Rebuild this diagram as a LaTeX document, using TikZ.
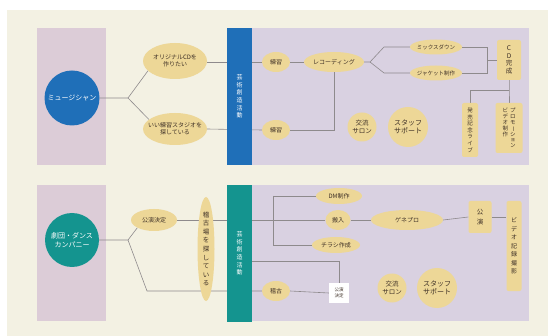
\documentclass[tikz,border=0pt]{standalone}
\usepackage{fontspec}
\usepackage{graphicx}
\setmainfont{Noto Sans CJK JP}
\usetikzlibrary{shapes.geometric}
\pgfdeclarelayer{bg}
\pgfdeclarelayer{ln}
\pgfsetlayers{bg,ln,main}
\definecolor{cream}{HTML}{F3F1E3}
\definecolor{pinkp}{HTML}{DCCCD7}
\definecolor{lavp}{HTML}{D9D1E1}
\definecolor{blueA}{HTML}{1F6FB8}
\definecolor{tealA}{HTML}{14948F}
\definecolor{ochre}{HTML}{EDD797}
\definecolor{txt}{HTML}{3E3026}
\definecolor{lineg}{HTML}{8E8A8C}
\newcommand\vbr{\rotatebox[origin=c]{-90}{ー}}
\begin{document}
\begin{tikzpicture}[x=1pt,y=-1pt,
  oval/.style={ellipse,fill=ochre,inner sep=-8pt,text=txt,align=center,font=\fontsize{6}{7}\selectfont},
  vbox/.style={rectangle,rounded corners=2pt,fill=ochre,inner sep=0pt,text=txt,align=center,font=\fontsize{6}{7}\selectfont},
  bub/.style={circle,fill=ochre,inner sep=0pt,text=txt,align=center,font=\fontsize{6.5}{7.5}\selectfont},
  bigc/.style={circle,inner sep=0pt,minimum size=55pt,text=white,align=center,font=\fontsize{7}{9}\selectfont},
  barbox/.style={rectangle,inner sep=0pt,minimum width=25pt,minimum height=137pt,text=white,align=center,font=\fontsize{6}{7.6}\selectfont},
  ln/.style={draw=lineg,line width=0.6pt}]
\useasboundingbox (0,0) rectangle (548,336);
\begin{pgfonlayer}{bg}
\fill[white] (0,0) rectangle (548,336);
\fill[cream] (7,10) rectangle (548,336);
\fill[pinkp] (37,28) rectangle (106,165);
\fill[lavp] (252,28) rectangle (529,165);
\fill[pinkp] (37,185) rectangle (106,321);
\fill[lavp] (252,185) rectangle (529,321);
\end{pgfonlayer}
% ---------- upper section ----------
\node[bigc,fill=blueA] (mus) at (72,98) {ミュージシャン};
\coordinate (b1) at (128,98);
\node[oval,minimum width=64pt,minimum height=36pt] (want) at (175,61) {オリジナルCDを\\作りたい};
\node[oval,minimum width=64pt,minimum height=32pt] (seek) at (175,129) {いい練習スタジオを\\探している};
\node[barbox,fill=blueA] (bar1) at (239.5,96.5) {芸\\術\\創\\造\\活\\動};
\node[oval,minimum width=28pt,minimum height=20pt] (ren1) at (276,62) {練習};
\node[oval,minimum width=60pt,minimum height=20pt] (rec) at (334,62) {レコーディング};
\coordinate (f1) at (370,62);
\coordinate (f2) at (384,47);
\coordinate (f3) at (384,73);
\node[oval,minimum width=52pt,minimum height=15pt,font=\fontsize{5.5}{6.5}\selectfont] (mix) at (436,47) {ミックスダウン};
\node[oval,minimum width=52pt,minimum height=15pt,font=\fontsize{5.5}{6.5}\selectfont] (jak) at (436,73) {ジャケット制作};
\coordinate (g1) at (487,47);
\coordinate (g2) at (487,73);
\coordinate (g3) at (487,60);
\node[vbox,minimum width=24pt,minimum height=40pt,font=\fontsize{6.5}{7.5}\selectfont] (cd) at (509,60) {C\\D\\完\\成};
\coordinate (h1) at (509,90);
\coordinate (h2) at (470,90);
\node[vbox,minimum width=16pt,minimum height=54pt,font=\fontsize{5.5}{6.6}\selectfont] (live) at (470,130) {発\\売\\記\\念\\ラ\\イ\\ブ};
\node[vbox,minimum width=27pt,minimum height=50pt,font=\fontsize{5.5}{6}\selectfont] (promo) at (509,128)
  {\renewcommand{\arraystretch}{0.85}\begin{tabular}[t]{@{}c@{\hspace{2pt}}c@{}}ビ&プ\\デ&ロ\\オ&モ\\制&\vbr\\作&シ\\&ョ\\&ン\end{tabular}};
\node[oval,minimum width=28pt,minimum height=20pt] (ren2) at (276,130) {練習};
\node[bub,minimum size=29pt] (sal1) at (362,127) {交流\\サロン};
\node[bub,minimum size=40pt,font=\fontsize{7}{8}\selectfont] (stf1) at (408,127) {スタッフ\\サポート};
% ---------- lower section ----------
\node[bigc,fill=tealA,minimum size=54pt] (gek) at (72,240) {劇団・ダンス\\カンパニー};
\coordinate (b2) at (128,240);
\coordinate (c2) at (147,291);
\node[oval,minimum width=46pt,minimum height=22pt] (kd) at (154,220) {公演決定};
\node[barbox,fill=tealA] (bar2) at (239.5,253.5) {芸\\術\\創\\造\\活\\動};
\node[oval,minimum width=17pt,minimum height=104pt,font=\fontsize{6.5}{8.6}\selectfont,inner sep=-20pt] (keb) at (206,249) {稽\\古\\場\\を\\探\\し\\て\\い\\る};
\coordinate (k1) at (273,196);
\coordinate (k3) at (273,245);
\coordinate (k4) at (252,261);
\coordinate (k5) at (339,261);
\node[oval,minimum width=46pt,minimum height=16pt] (dm) at (339,196) {DM制作};
\node[oval,minimum width=25pt,minimum height=20pt] (han) at (338,220) {搬入};
\node[oval,minimum width=48pt,minimum height=16pt] (chi) at (336,245) {チラシ作成};
\node[oval,minimum width=72pt,minimum height=20pt] (gen) at (407,220) {ゲネプロ};
\node[vbox,minimum width=23pt,minimum height=32pt,font=\fontsize{6.5}{10}\selectfont] (kou) at (480,217) {公\\演};
\node[vbox,minimum width=15pt,minimum height=90pt,font=\fontsize{6}{8.5}\selectfont] (vid) at (514,246) {ビ\\デ\\オ\\記\\録\\撮\\影};
\node[oval,minimum width=28pt,minimum height=20pt] (kei2) at (276,291) {稽古};
\node[rectangle,fill=white,inner sep=0pt,minimum width=20pt,minimum height=20pt,text=txt,align=center,font=\fontsize{4.5}{5.5}\selectfont] (kbox) at (339,293) {公演\\決定};
\node[bub,minimum size=29pt] (sal2) at (392,288) {交流\\サロン};
\node[bub,minimum size=40pt,font=\fontsize{7}{8}\selectfont] (stf2) at (437,288) {スタッフ\\サポート};
% ---------- connectors ----------
\begin{pgfonlayer}{ln}
\draw[ln] (mus.east) -- (b1) -- (want.200);
\draw[ln] (b1) -- (seek.160);
\draw[ln] (want.east |- ren1.west) -- (ren1.west);
\draw[ln] (seek.east) -- (ren2.west);
\draw[ln] (ren1.east) -- (rec.west);
\draw[ln] (rec.east) -- (f1) -- (f2) -- (mix.west);
\draw[ln] (f1) -- (f3) -- (jak.west);
\draw[ln] (mix.east) -- (g1) -- (g2) -- (jak.east);
\draw[ln] (g3) -- (cd.west);
\draw[ln] (cd.south) -- (h1) -- (promo.north);
\draw[ln] (h1) -- (h2) -- (live.north);
\draw[ln] (rec.south) |- (ren2.east);
\draw[ln] (gek.east) -- (b2) -- (kd.205);
\draw[ln] (b2) -- (c2) -- (kei2.west);
\draw[ln] (kd.east) -- (han.west);
\draw[ln] (k1) -- (dm.west);
\draw[ln] (k1) -- (k3) -- (chi.west);
\draw[ln] (k4) -- (k5) -- (kbox.north);
\draw[ln] (kei2.east) -- (kbox.west);
\draw[ln] (han.east) -- (gen.west);
\draw[ln] (gen.east) -- (kou.west);
\draw[ln] (kou.east) -- (kou.east -| vid.west);
\end{pgfonlayer}
\end{tikzpicture}
\end{document}
